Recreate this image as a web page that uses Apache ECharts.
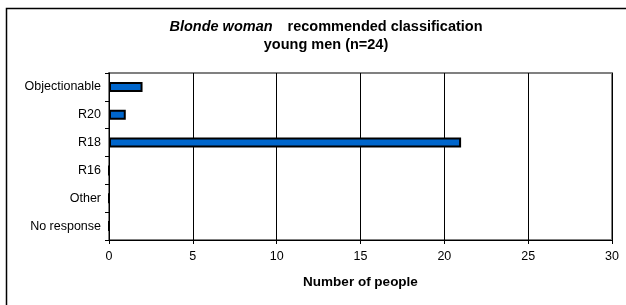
<!DOCTYPE html>
<html>
<head>
<meta charset="utf-8">
<script src="https://cdn.jsdelivr.net/npm/echarts@6/dist/echarts.min.js"></script>
<style>
  html, body { margin: 0; padding: 0; background: #fff; }
  #chart { width: 626px; height: 305px; }
</style>
</head>
<body>
<div id="chart"></div>
<script>
const categories = ['Objectionable', 'R20', 'R18', 'R16', 'Other', 'No response']
const people = [2, 1, 21, 0, 0, 0]
const xTicks = [0, 5, 10, 15, 20, 25, 30]

const chart = echarts.init(document.getElementById('chart'), null, { renderer: 'canvas' })

chart.setOption({
  backgroundColor: '#fff',
  animation: false,
  textStyle: { fontFamily: 'Liberation Sans, Arial, sans-serif', color: '#000' },
  title: {
    text: '{i|Blonde woman}   {b|recommended classification}\n{b|young men (n=24)}',
    left: 321,
    top: 13,
    textAlign: 'center',
    textStyle: {
      rich: {
        i: { fontSize: 14.5, fontWeight: 'bold', fontStyle: 'italic', color: '#000', fontFamily: 'Liberation Sans', lineHeight: 18 },
        b: { fontSize: 14.5, fontWeight: 'bold', color: '#000', fontFamily: 'Liberation Sans', lineHeight: 18 },
      },
    },
  },
  graphic: [{
    type: 'polyline',
    shape: { points: [[6.5, 305], [6.5, 8.5], [626, 8.5]] },
    style: { fill: null, stroke: '#000', lineWidth: 1.5 },
    silent: true,
  }],
  grid: {
    left: 109, right: 14, top: 73, bottom: 65,
    show: true, borderColor: '#808080', borderWidth: 2, backgroundColor: '#fff',
  },
  xAxis: {
    type: 'value',
    min: xTicks[0],
    max: xTicks[xTicks.length - 1],
    interval: 5,
    name: 'Number of people',
    nameLocation: 'middle',
    nameGap: 35,
    nameTextStyle: { fontSize: 13.5, fontWeight: 'bold', color: '#000' },
    axisLine: { show: true, lineStyle: { color: '#000', width: 1 } },
    axisTick: { show: true, length: 4, lineStyle: { color: '#000' } },
    axisLabel: { fontSize: 12.5, color: '#000', margin: 10 },
    splitLine: { show: true, lineStyle: { color: '#000', width: 1 } },
  },
  yAxis: {
    type: 'category',
    inverse: true,
    data: categories,
    axisLine: { show: true, lineStyle: { color: '#000', width: 1 } },
    axisTick: { show: true, length: 4, lineStyle: { color: '#000' } },
    axisLabel: { fontSize: 12.5, color: '#000', margin: 8 },
    splitLine: { show: false },
  },
  series: [{
    type: 'bar',
    data: people,
    barWidth: 10,
    itemStyle: { color: '#0066CC', borderColor: '#000', borderWidth: 2 },
  }],
})
</script>
</body>
</html>
